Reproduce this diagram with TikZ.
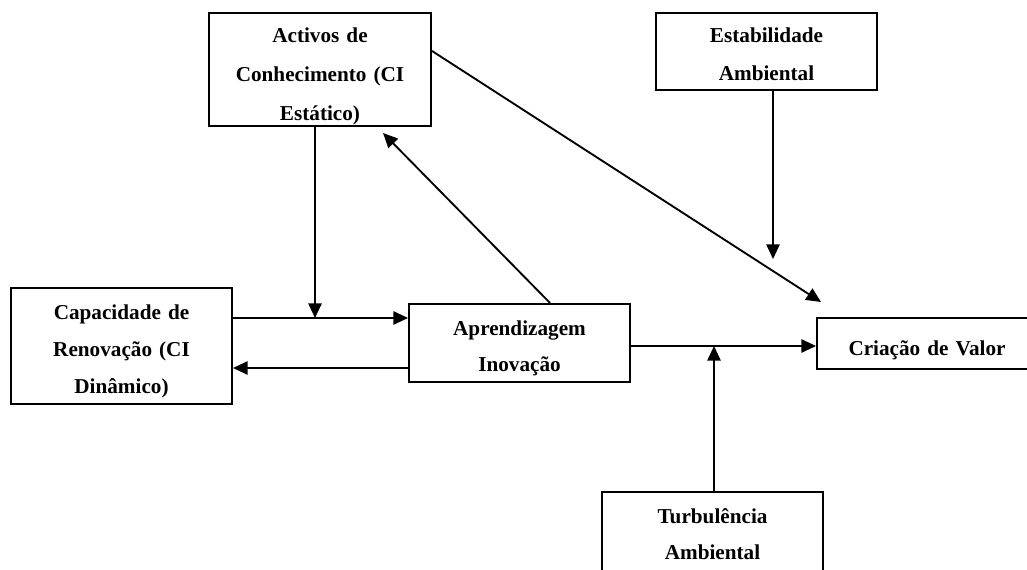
\documentclass[tikz,border=0pt]{standalone}
\usepackage{fontspec}
\setmainfont{Liberation Serif}
\usetikzlibrary{arrows.meta}
\begin{document}
\begin{tikzpicture}[x=0.75pt,y=-0.75pt,
  box/.style={draw, line width=1.5pt, rectangle, inner sep=0pt},
  lbl/.style={font=\bfseries\fontsize{15.9}{#1}\selectfont, align=center,
    text width=170pt, inner sep=0pt, anchor=base},
  arr/.style={line width=1.4pt, -{Triangle[length=11pt,width=10pt]}},
  link/.style={line width=1.4pt}]
\useasboundingbox (0,0) rectangle (1027,570);
\clip (0,0) rectangle (1027,570);

% boxes
\node[box, minimum width=166.5pt, minimum height=84.75pt] (act) at (320,69.5) {};
\node[box, minimum width=165.75pt, minimum height=57.75pt] (est) at (766.5,51.5) {};
\node[box, minimum width=165.75pt, minimum height=87pt] (cap) at (121.5,346) {};
\node[box, minimum width=165.75pt, minimum height=58.5pt] (apr) at (519.5,343) {};
\node[box, minimum width=165pt, minimum height=38.25pt] (cri) at (927,343.5) {};
\node[box, minimum width=165.75pt, minimum height=81pt] (tur) at (712.5,546) {};

% labels
\node[lbl=29.25pt] (actt) at (320,43) {Activos de\\Conhecimento (CI\\Estático)};
\node[lbl=28.1pt] (estt) at (766.5,42.7) {Estabilidade\\Ambiental};
\node[lbl=27.75pt] (capt) at (121.5,319) {Capacidade de\\Renovação (CI\\Dinâmico)};
\node[lbl=27pt] (aprt) at (519.5,335) {Aprendizagem\\Inovação};
\node[lbl=27pt] (crit) at (927,355) {Criação de Valor};
\node[lbl=27pt] (turt) at (712.5,523) {Turbulência\\Ambiental};

% junction points on the connectors
\coordinate (j1) at (315,318);
\coordinate (j2) at (714,346);
\coordinate (esttip) at (773,259);

% connectors
\draw[arr] (j1 |- act.south) -- (j1);
\draw[arr] (cap.east |- j1) -- (apr.west |- j1);
\draw[arr] ([yshift=-18.75pt]apr.west) -- ([yshift=-16.5pt]cap.east);
\draw[arr] ([xshift=22.9pt]apr.north) -- ([xshift=47.25pt,yshift=-4.5pt]act.south);
\draw[arr] ([yshift=13.9pt]act.east) -- ([xshift=3.75pt,yshift=11.25pt]cri.north west);
\draw[arr] (esttip |- est.south) -- (esttip);
\draw[arr] (apr.east |- j2) -- (cri.west |- j2);
\draw[arr] (j2 |- tur.north) -- (j2);
\end{tikzpicture}
\end{document}
